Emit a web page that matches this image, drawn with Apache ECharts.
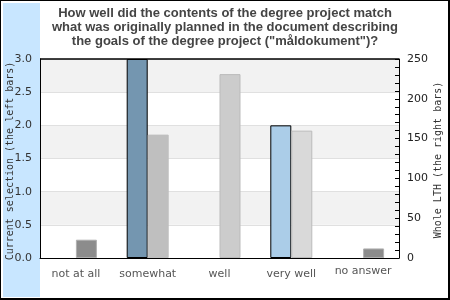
<!DOCTYPE html>
<html><head><meta charset="utf-8">
<script src="https://cdn.jsdelivr.net/npm/echarts@6/dist/echarts.min.js"></script>
<style>html,body{margin:0;padding:0;background:#fff}#c{width:450px;height:300px}</style>
</head><body><div id="c"></div>
<script>
const categories = ['not at all', 'somewhat', 'well', 'very well', 'no answer'];
const currentSelection = [0, 3.0, 0, 2.0, 0];
const wholeLTH = [23, 155, 231, 160, 12];
const leftTicks = [0, 0.5, 1.0, 1.5, 2.0, 2.5, 3.0];
const rightTicks = [0, 50, 100, 150, 200, 250];
const titleLines = ['How well did the contents of the degree project match',
  'what was originally planned in the document describing',
  'the goals of the degree project ("måldokument")?'];

const leftColors = ['#7496b0', '#7496b0', '#7496b0', '#abcde8', '#7496b0'];
const rightColors = ['#8c8c8c', '#bfbfbf', '#cccccc', '#d9d9d9', '#8c8c8c'];
const rightBorders = ['#b0b0b0', '#bfbfbf', '#bbbbbb', '#bbbbbb', '#b0b0b0'];

const chart = echarts.init(document.getElementById('c'), null, {renderer: 'canvas'});
chart.setOption({
  animation: false,
  backgroundColor: '#fff',
  graphic: [
    {type: 'rect', shape: {x: 3, y: 3, width: 37, height: 294}, style: {fill: '#c8e6ff'}, z: -10},
    {type: 'rect', shape: {x: 0, y: 0, width: 450, height: 1}, style: {fill: '#000'}},
    {type: 'rect', shape: {x: 0, y: 0, width: 1, height: 300}, style: {fill: '#000'}},
    {type: 'rect', shape: {x: 448, y: 0, width: 2, height: 300}, style: {fill: '#000'}},
    {type: 'rect', shape: {x: 0, y: 298, width: 450, height: 2}, style: {fill: '#000'}},
    {type: 'text', x: 225, y: 6, style: {text: titleLines.join('\n'), font: 'bold 13px "Liberation Sans", Arial, sans-serif',
      fill: '#444', align: 'center', verticalAlign: 'top', lineHeight: 14}},
    {type: 'text', x: 10, y: 161, rotation: Math.PI / 2, style: {text: 'Current selection (the left bars)',
      font: '10px "DejaVu Sans Mono", monospace', fill: '#333', align: 'center', verticalAlign: 'middle'}},
    {type: 'text', x: 438, y: 160, rotation: Math.PI / 2, style: {text: 'Whole LTH (the right bars)',
      font: '10px "DejaVu Sans Mono", monospace', fill: '#333', align: 'center', verticalAlign: 'middle'}},
    {type: 'rect', shape: {x: 40, y: 59, width: 359, height: 0}, style: {stroke: '#000', lineWidth: 1}, z: 100}
  ],
  grid: [
    {left: 40, right: 51, top: 59, bottom: 42, show: false},
    {left: 395, right: 51, top: 59, bottom: 42, show: false, z: 20}
  ],
  xAxis: [
    {
      type: 'category', gridIndex: 0,
      data: categories,
      axisLine: {show: true, lineStyle: {color: '#000', width: 1}},
      axisTick: {show: false},
      axisLabel: {fontFamily: 'DejaVu Sans', fontSize: 11, color: '#555', margin: 9, lineHeight: 14, interval: 0,
        formatter: v => v === 'no answer' ? '{up|' + v + '}' : v,
        rich: {up: {fontFamily: 'DejaVu Sans', fontSize: 11, color: '#555', lineHeight: 8}}},
      z: 10
    },
    {type: 'value', gridIndex: 1, min: 0, max: 1, show: false}
  ],
  yAxis: [
    {
      type: 'value', gridIndex: 0, min: 0, max: 3, interval: 0.5,
      axisLine: {show: true, lineStyle: {color: '#000'}},
      axisTick: {show: false},
      axisLabel: {fontFamily: 'DejaVu Sans', fontSize: 11, color: '#333', margin: 8,
        formatter: v => leftTicks.includes(v) ? v.toFixed(1) : ''},
      splitLine: {show: true, lineStyle: {color: '#e0e0e0'}},
      splitArea: {show: true, areaStyle: {color: ['#ffffff', '#f2f2f2']}}
    },
    {
      type: 'value', gridIndex: 0, min: 0, max: 250, interval: 50, position: 'right',
      axisLine: {show: true, onZero: false, lineStyle: {color: '#000'}},
      axisTick: {show: false},
      axisLabel: {fontFamily: 'DejaVu Sans', fontSize: 11, color: '#222', margin: 8,
        formatter: v => rightTicks.includes(v) ? String(v) : ''},
      splitLine: {show: false}
    },
    {
      type: 'value', gridIndex: 1, min: 0, max: 250, interval: 10, position: 'right', z: 20,
      axisLine: {show: false},
      axisTick: {show: false},
      axisLabel: {show: false},
      splitLine: {show: true, lineStyle: {color: '#000', width: 1}}
    }
  ],
  series: [
    {
      type: 'bar', xAxisIndex: 0, yAxisIndex: 0, data: currentSelection.map(v => v === 0 ? '-' : v), barWidth: 21, barGap: '0%',
      itemStyle: {color: p => leftColors[p.dataIndex], borderColor: '#000', borderWidth: 1}
    },
    {
      type: 'bar', xAxisIndex: 0, yAxisIndex: 1, data: wholeLTH.map((v, i) => ({value: v,
        itemStyle: {color: rightColors[i], borderColor: rightBorders[i], borderWidth: 1}})), barWidth: 21, barGap: '0%'
    }
  ]
});
</script></body></html>
